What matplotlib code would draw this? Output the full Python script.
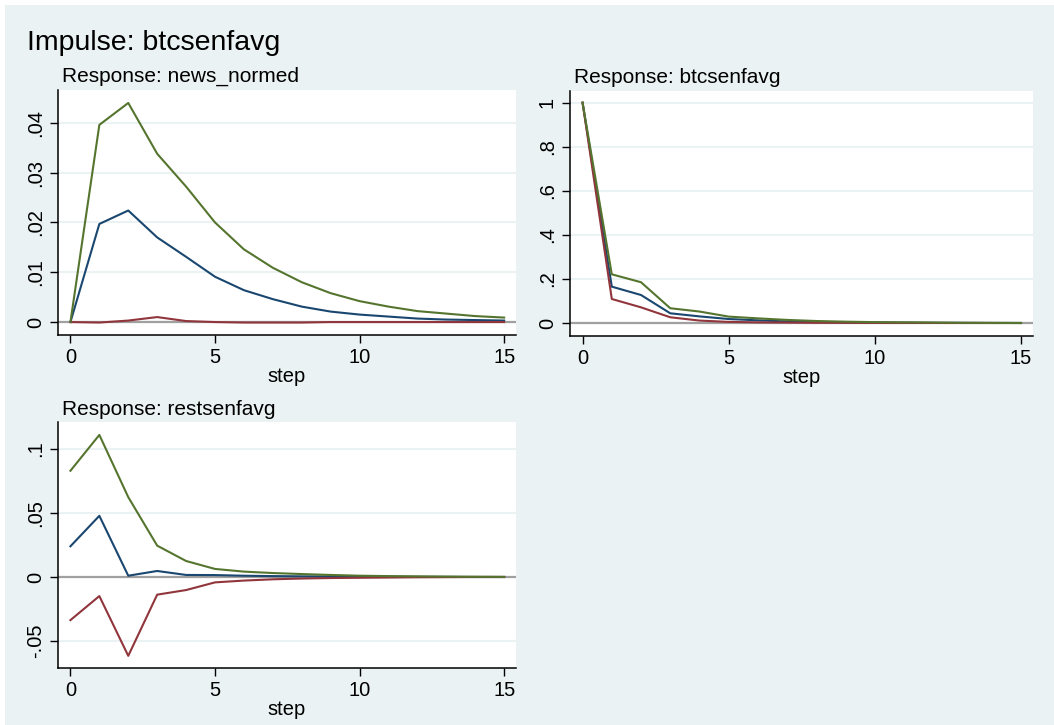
import numpy as np
import matplotlib
matplotlib.use('Agg')
import matplotlib.pyplot as plt
from matplotlib.patches import Rectangle

plt.rcParams['font.family'] = ['Liberation Sans', 'DejaVu Sans']

step = list(range(16))

# Response: news_normed
news_irf = [0, .0197, .0224, .0170, .0131, .0091, .0064, .0046, .0031, .0021, .0015, .0011, .0007, .0005, .0004, .0003]
news_lo = [0, -.0001, .0003, .0010, .0002, 0, -.0001, -.0001, -.0001, 0, 0, 0, 0, 0, 0, 0]
news_hi = [0, .0396, .0440, .0338, .0272, .0200, .0146, .0109, .0080, .0058, .0042, .0031, .0022, .0017, .0012, .0009]

# Response: btcsenfavg
btc_irf = [1, .165, .127, .044, .030, .018, .012, .007, .005, .003, .002, .0015, .001, .0006, .0003, .0001]
btc_lo = [1, .109, .071, .026, .011, .005, .003, .002, .001, .0008, .0005, .0003, .0002, .0001, 0, 0]
btc_hi = [1, .221, .185, .067, .052, .029, .021, .014, .009, .006, .004, .003, .002, .001, .0005, 0]

# Response: restsenfavg
rest_irf = [.024, .0478, .0010, .0047, .0016, .0015, .0010, .0007, .0005, .0004, .0003, .0002, .0001, .0001, 0, 0]
rest_lo = [-.0337, -.0149, -.0616, -.0138, -.0102, -.0042, -.0028, -.0018, -.0012, -.0008, -.0006, -.0004, -.0002, -.0001, 0, 0]
rest_hi = [.083, .111, .0624, .0245, .0125, .0063, .0042, .0031, .0023, .0016, .0010, .0007, .0005, .0003, .0002, .0001]

navy = '#1a476f'
maroon = '#90353b'
green = '#55752f'
bg = '#eaf2f3'

W, H = 1054, 725
fig = plt.figure(figsize=(W / 100, H / 100), dpi=100, facecolor='white')
fig.patches.append(Rectangle((5 / W, 0), 1, 1 - 5 / H, transform=fig.transFigure,
                             facecolor=bg, edgecolor='none', zorder=-10))


def box(l, t, r, b):
    return [l / W, 1 - b / H, (r - l) / W, (b - t) / H]


def panel(rect, irf, lo, hi, ylim, yticks, ylabels, title, tx, ty):
    ax = fig.add_axes(rect)
    ax.set_facecolor('white')
    for yv in yticks:
        ax.axhline(yv, color=bg, lw=1.5, zorder=1)
    ax.axhline(0, color='#a0a0a0', lw=1.6, zorder=2)
    ax.plot(step, irf, color=navy, lw=1.5, zorder=3)
    ax.plot(step, lo, color=maroon, lw=1.5, zorder=3)
    ax.plot(step, hi, color=green, lw=1.5, zorder=3)
    ax.set_xlim(-0.43, 15.41)
    ax.set_ylim(*ylim)
    ax.set_xticks([0, 5, 10, 15])
    ax.set_yticks(yticks)
    ax.set_yticklabels(ylabels, rotation=90, va='center')
    ax.tick_params(direction='out', length=5.5, width=1, labelsize=14.5, pad=4)
    ax.spines['top'].set_visible(False)
    ax.spines['right'].set_visible(False)
    ax.spines['left'].set_linewidth(1.1)
    ax.spines['bottom'].set_linewidth(1.1)
    ax.set_xlabel('step', fontsize=14.5, labelpad=0)
    fig.text(tx / W, 1 - ty / H, title, fontsize=15, ha='left', va='baseline')
    return ax


panel(box(58, 90, 516, 335), news_irf, news_lo, news_hi, (-.0026, .0466),
      [0, .01, .02, .03, .04], ['0', '.01', '.02', '.03', '.04'],
      'Response: news_normed', 62, 82)
panel(box(570, 91, 1033, 336), btc_irf, btc_lo, btc_hi, (-.059, 1.053),
      [0, .2, .4, .6, .8, 1], ['0', '.2', '.4', '.6', '.8', '1'],
      'Response: btcsenfavg', 574, 83)
panel(box(58, 422, 516, 668), rest_irf, rest_lo, rest_hi, (-.0711, .1211),
      [-.05, 0, .05, .1], ['-.05', '0', '.05', '.1'],
      'Response: restsenfavg', 62, 415)

fig.text(27 / W, 1 - 50 / H, 'Impulse: btcsenfavg', fontsize=20.5, ha='left', va='baseline')

plt.savefig('out.png', dpi=100, facecolor=fig.get_facecolor())
